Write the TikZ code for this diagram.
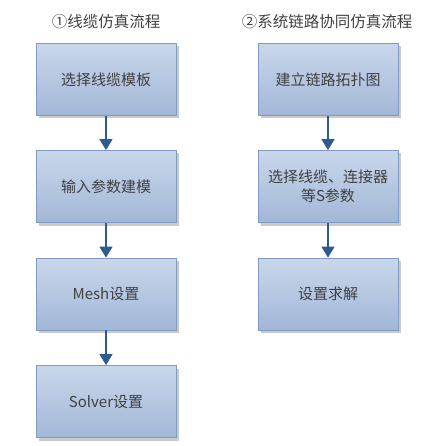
\documentclass[tikz,border=0pt]{standalone}
\usepackage{fontspec}
\setmainfont{Noto Sans CJK SC}
\usepackage{tikz}
\usetikzlibrary{arrows.meta,shadows}

\definecolor{boxtop}{HTML}{C9D7EB}
\definecolor{boxbot}{HTML}{A2B7D7}
\definecolor{boxline}{HTML}{7F9BC4}
\definecolor{flowarrow}{HTML}{2E5A90}
\definecolor{labeltext}{HTML}{404040}

\tikzset{
  flowbox/.style={draw=boxline, line width=0.8pt, top color=boxtop, bottom color=boxbot,
    minimum width=140pt, minimum height=72pt, inner sep=2pt, align=center,
    text=labeltext, font=\fontsize{15pt}{19pt}\selectfont,
    drop shadow={shadow xshift=3pt, shadow yshift=-3pt, fill=black!35, opacity=0.6}},
  flowtitle/.style={text=labeltext, font=\fontsize{15.5pt}{18pt}\selectfont},
  flowlink/.style={draw=flowarrow, line width=1.5pt, -{Triangle[width=13pt,length=11pt]}}
}

\begin{document}
\begin{tikzpicture}[x=1pt,y=-1pt]
\useasboundingbox (0,0) rectangle (432,446);
% titles
\node[flowtitle] (ltitle) at (106,22) {①线缆仿真流程};
\node[flowtitle] (rtitle) at (327,22) {②系统链路协同仿真流程};
% cable simulation flow
\node[flowbox] (cabletpl) at (106,79.5) {选择线缆模板};
\node[flowbox] (cablemodel) at (106,186.5) {输入参数建模};
\node[flowbox] (meshset) at (106,294) {Mesh设置};
\node[flowbox] (solverset) at (106,401.5) {Solver设置};
% link co-simulation flow
\node[flowbox] (linktopo) at (328,79.5) {建立链路拓扑图};
\node[flowbox] (sparam) at (328,186.5) {选择线缆、连接器\\等S参数};
\node[flowbox] (solveset) at (328,294) {设置求解};
% arrows
\draw[flowlink] (cabletpl) -- (cablemodel);
\draw[flowlink] (cablemodel) -- (meshset);
\draw[flowlink] (meshset) -- (solverset);
\draw[flowlink] (linktopo) -- (sparam);
\draw[flowlink] (sparam) -- (solveset);
\end{tikzpicture}
\end{document}
